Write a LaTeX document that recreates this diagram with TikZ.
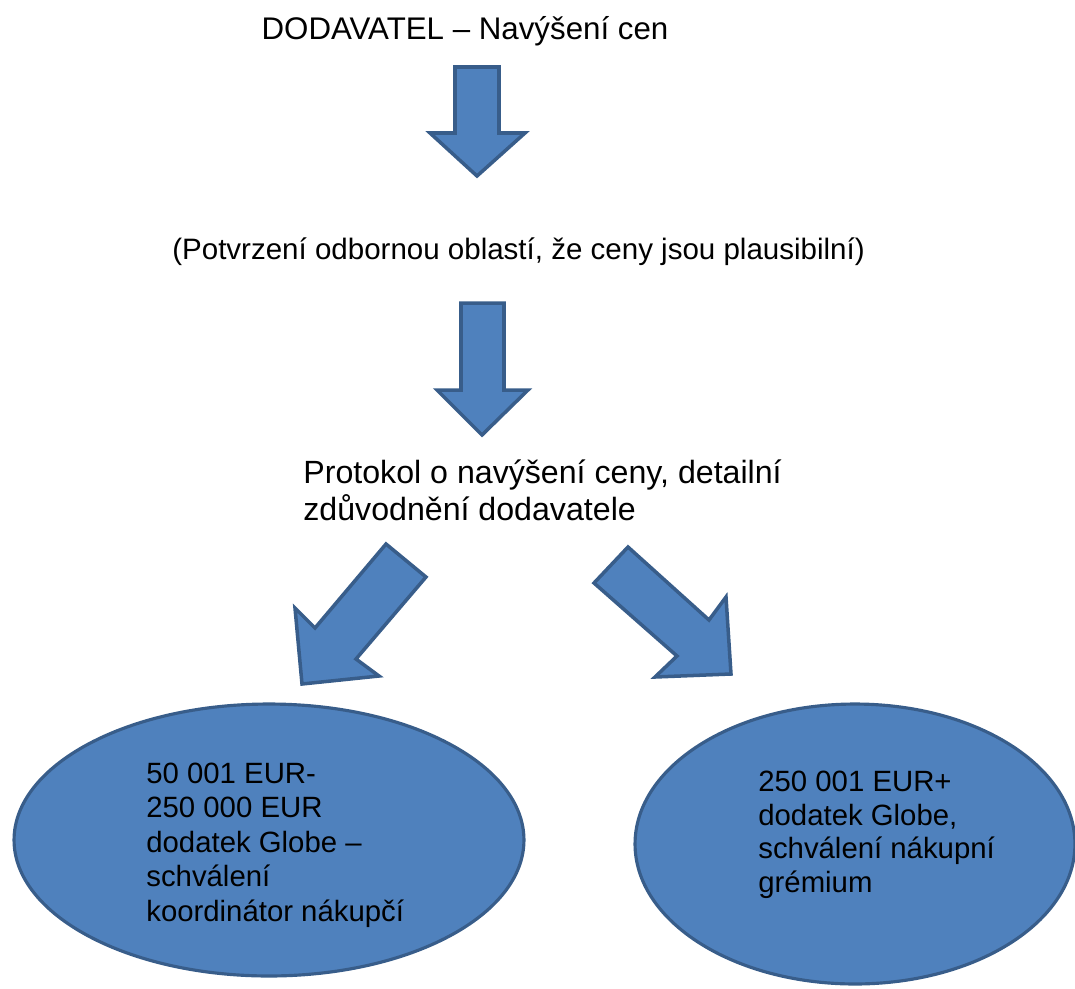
\documentclass[tikz,border=0pt]{standalone}
\usepackage{fontspec}
\setmainfont{Liberation Sans}
\usepackage{tikz}
\usetikzlibrary{shapes.geometric}
\definecolor{ppBlue}{HTML}{4F81BD}
\definecolor{ppEdge}{HTML}{385D8A}
\tikzset{
  blockarrow/.style={
    draw=ppEdge,
    fill=ppBlue,
    line width=2pt,
    line join=miter
  },
  oval/.style={
    ellipse,
    draw=ppEdge,
    fill=ppBlue,
    line width=1.8pt,
    inner sep=0pt
  },
  steptext/.style={
    inner sep=0pt,
    text=black
  },
  ovaltext/.style={
    inner sep=0pt,
    text=black,
    align=left,
    anchor=base west
  }
}

\begin{document}
\begin{tikzpicture}[x=0.02cm, y=-0.02cm]
  \useasboundingbox (0,0) rectangle (1075,988);

  % ------------------------------------------------------------------
  % top: supplier request and check
  % ------------------------------------------------------------------
  \node[steptext, font=\fontsize{17.8}{21}\selectfont, anchor=base]
    (dodavatel) at (465,39) {DODAVATEL – Navýšení cen};

  \draw[blockarrow] (455,67) -- (499,67) -- (499,133) -- (525,133)
    -- (477,176) -- (430,133) -- (455,133) -- cycle;

  \node[steptext, font=\fontsize{16.8}{20}\selectfont, anchor=base west]
    (potvrzeni) at (172,259) {(Potvrzení odbornou oblastí, že ceny jsou plausibilní)};

  \draw[blockarrow] (461,303) -- (504,303) -- (504,390) -- (528,390)
    -- (482,435) -- (437,390) -- (461,390) -- cycle;

  % last line sits on the given baseline
  \node[steptext, font=\fontsize{18.3}{21}\selectfont, align=left, anchor=base west]
    (protokol) at (303,520) {Protokol o navýšení ceny, detailní\\zdůvodnění dodavatele};

  % ------------------------------------------------------------------
  % split by amount
  % ------------------------------------------------------------------
  \draw[blockarrow] (386,544) -- (426,577) -- (356,659) -- (379,676)
    -- (302,684) -- (295,608) -- (315,628) -- cycle;
  \draw[blockarrow] (628,547) -- (594,583) -- (677,656) -- (655,677)
    -- (731,674) -- (726,597) -- (709,620) -- cycle;

  \node[oval, minimum width=10.2cm, minimum height=5.44cm]
    (koordinator) at (269,840) {};
  \node[oval, minimum width=8.8cm, minimum height=5.6cm]
    (gremium) at (855,844) {};

  \node[ovaltext, font=\fontsize{16.7}{19.6}\selectfont] (koordinatorText) at (146,921)
    {50 001 EUR-\\250 000 EUR\\dodatek Globe –\\schválení\\koordinátor nákupčí};
  \node[ovaltext, font=\fontsize{16.7}{19}\selectfont] (gremiumText) at (758,892)
    {250 001 EUR+\\dodatek Globe,\\schválení nákupní\\grémium};
\end{tikzpicture}
\end{document}
